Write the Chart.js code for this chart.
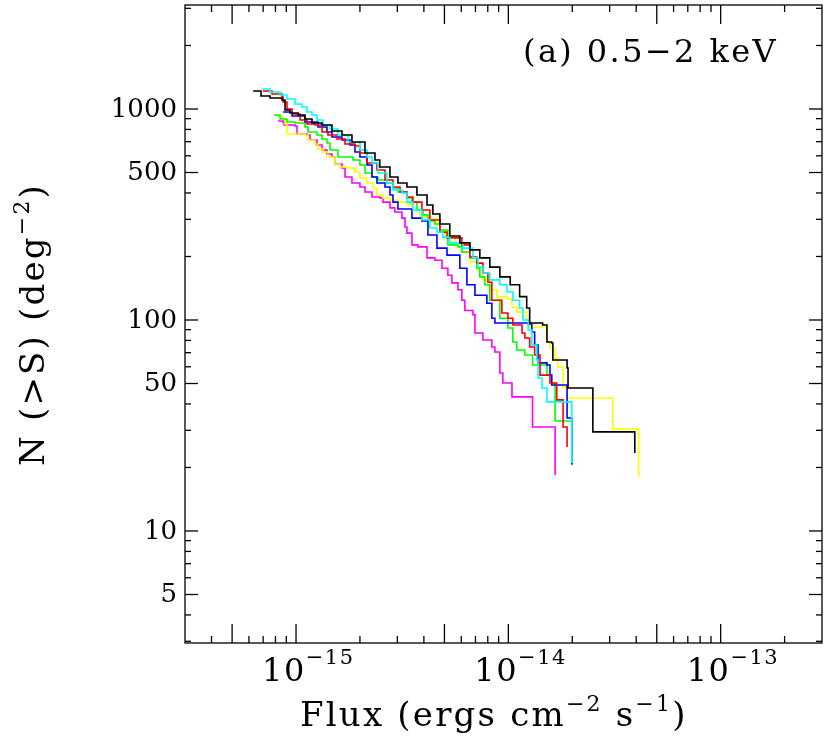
<!DOCTYPE html>
<html>
<head>
<meta charset="utf-8">
<script src="https://cdn.jsdelivr.net/npm/chart.js@4.4.0/dist/chart.umd.min.js"></script>
<style>
    body { margin: 0; background: #fff; }
    #wrap { width: 830px; height: 744px; }
</style>
</head>
<body>
<div id="wrap"><canvas id="lognlogs" width="830" height="744"></canvas></div>
<script>
// flux in units of 1e-15 ergs cm^-2 s^-1, N(>S) in deg^-2
let blackFlux = [0.628, 0.684, 0.755, 0.859, 0.888, 0.937, 1.022, 1.102, 1.189, 1.326, 1.477, 1.646, 1.834, 2.112, 2.354, 2.48, 2.77, 3.02, 3.33, 3.71, 4.14, 4.41, 4.76, 5.30, 5.91, 6.59, 7.34, 8.18, 9.12, 10.2, 11.3, 12.2, 12.6, 14.5, 15.2, 16.0, 16.2, 18.1, 18.9, 19.1, 23.7, 25.0, 39.4, 39.4];
let blackN = [1217, 1152, 1127, 1103, 989, 957, 937, 897, 858, 840, 787, 753, 698, 619, 573, 531, 476, 446, 427, 391, 351, 318, 285, 250, 232, 215, 197, 178, 160, 147, 129, 114, 96.8, 94.7, 78.7, 77.8, 64.6, 64.6, 59.2, 47.6, 47.6, 29.5, 29.5, 23.4];

let redFlux = [0.699, 0.771, 0.859, 0.869, 0.907, 0.958, 1.044, 1.126, 1.228, 1.326, 1.414, 1.559, 1.701, 1.895, 2.0, 2.159, 2.405, 2.624, 2.861, 3.09, 3.33, 3.553, 3.917, 4.27, 4.76, 5.14, 6.04, 6.59, 7.11, 7.59, 8.01, 8.36, 9.32, 9.95, 10.5, 11.6, 11.96, 12.6, 13.3, 14.1, 15.7, 16.9, 18.1, 18.9, 18.9];
let redN = [1217, 1178, 1140, 1080, 1000, 947, 887, 849, 840, 778, 753, 721, 683, 668, 619, 555, 514, 461, 427, 404, 383, 362, 332, 298, 261, 245, 227, 199, 186, 167, 151, 124, 108, 102, 94.7, 86.8, 82.2, 74.5, 68.3, 54.8, 50.3, 41.8, 31.1, 31.1, 25.0];

let blueFlux = [0.869, 0.958, 1.102, 1.269, 1.399, 1.477, 1.646, 1.795, 1.895, 2.0, 2.159, 2.279, 2.405, 2.624, 2.77, 2.861, 3.02, 3.44, 3.515, 3.917, 4.18, 4.61, 5.14, 5.91, 6.38, 6.96, 7.92, 8.36, 8.64, 12.4, 12.9, 13.3, 13.8, 15.2, 15.7, 16.0, 18.9, 18.9, 19.9, 19.9];
let blueN = [968, 926, 868, 822, 778, 737, 713, 675, 625, 592, 543, 476, 446, 427, 391, 362, 336, 336, 304, 295, 253, 219, 203, 176, 147, 131, 120, 102, 96.8, 95.7, 87.7, 76.1, 62.6, 61.2, 54.8, 49.2, 47.6, 34.3, 34.3, 20.6];

let greenFlux = [0.788, 0.841, 0.907, 0.989, 1.102, 1.139, 1.255, 1.326, 1.399, 1.445, 1.576, 1.854, 2.0, 2.112, 2.279, 2.432, 2.680, 2.861, 3.02, 3.33, 3.515, 3.71, 3.96, 4.18, 4.51, 4.76, 5.19, 5.79, 6.04, 6.59, 7.11, 7.34, 7.75, 8.18, 9.12, 9.95, 10.5, 10.96, 11.96, 13.0, 14.9, 15.2, 16.0, 16.6, 19.9, 19.9];
let greenN = [937, 897, 868, 858, 822, 778, 753, 721, 690, 639, 592, 573, 543, 497, 476, 461, 446, 422, 404, 379, 362, 332, 315, 295, 285, 267, 227, 222, 210, 197, 176, 160, 147, 124, 102, 91.6, 78.7, 72.1, 68.3, 61.2, 61.2, 54.8, 50.3, 33.2, 33.2, 22.9];

let cyanFlux = [0.692, 0.755, 0.841, 0.907, 0.989, 1.067, 1.126, 1.189, 1.255, 1.340, 1.445, 1.576, 1.757, 2.0, 2.159, 2.279, 2.432, 2.680, 2.861, 3.154, 3.33, 3.553, 3.917, 4.27, 4.61, 4.92, 5.30, 6.11, 6.81, 7.19, 7.59, 8.18, 9.12, 9.84, 10.5, 11.3, 11.7, 12.4, 12.9, 13.6, 13.8, 14.4, 15.2, 19.9, 19.9];
let cyanN = [1244, 1204, 1165, 1115, 1056, 1022, 968, 937, 887, 840, 804, 753, 698, 639, 592, 555, 497, 446, 413, 400, 362, 332, 298, 273, 261, 247, 232, 219, 197, 178, 167, 155, 147, 136, 124, 114, 100, 89.7, 76.1, 64.6, 53.1, 47.6, 40.9, 40.9, 21.0];

let yellowFlux = [0.814, 0.859, 0.888, 0.907, 1.102, 1.139, 1.228, 1.269, 1.340, 1.414, 1.526, 1.611, 1.738, 1.895, 2.0, 2.159, 2.303, 2.405, 2.567, 2.77, 3.02, 3.33, 3.553, 3.83, 4.27, 4.61, 4.76, 5.03, 5.60, 6.04, 6.59, 7.11, 7.59, 8.18, 8.83, 9.84, 10.4, 10.96, 12.2, 12.6, 15.2, 15.2, 15.7, 16.6, 17.1, 18.1, 18.9, 28.5, 31.0, 41.1, 41.1];
let yellowN = [926, 897, 849, 761, 753, 713, 683, 646, 625, 592, 549, 531, 525, 503, 471, 446, 422, 391, 379, 370, 362, 351, 332, 308, 301, 282, 267, 247, 232, 210, 188, 173, 155, 139, 129, 126, 115, 109, 100, 92.6, 91.6, 78.7, 73.7, 66.1, 59.9, 48.1, 42.7, 42.7, 30.4, 30.4, 18.0];

let magentaFlux = [0.823, 0.869, 0.878, 0.989, 1.011, 1.126, 1.164, 1.255, 1.326, 1.399, 1.477, 1.526, 1.646, 1.701, 1.834, 2.0, 2.112, 2.279, 2.48, 2.567, 2.77, 2.92, 3.154, 3.26, 3.33, 3.515, 3.75, 4.14, 4.51, 4.87, 5.19, 5.42, 5.79, 6.04, 6.24, 6.81, 6.96, 7.59, 8.36, 8.64, 9.12, 9.42, 10.4, 13.0, 13.0, 16.6, 16.6];
let magentaN = [877, 868, 840, 831, 761, 753, 713, 675, 639, 612, 592, 549, 525, 476, 446, 427, 404, 383, 379, 362, 340, 325, 304, 276, 258, 227, 222, 197, 192, 176, 163, 150, 139, 124, 111, 106, 86.8, 80.4, 74.5, 70.5, 56.1, 50.3, 43.2, 43.2, 31.1, 31.1, 18.4];

let xDecades = [-15, -14, -13];
let yTickLabels = [1000, 500, 100, 50, 10, 5];

let toPoints = (flux, n) => flux.map((f, i) => ({ x: f * 1e-15, y: n[i] }));
let series = [
    { label: 'black', color: '#000000', flux: blackFlux, n: blackN },
    { label: 'cyan', color: '#00ffff', flux: cyanFlux, n: cyanN },
    { label: 'red', color: '#ff0000', flux: redFlux, n: redN },
    { label: 'blue', color: '#0000ff', flux: blueFlux, n: blueN },
    { label: 'green', color: '#00ff00', flux: greenFlux, n: greenN },
    { label: 'yellow', color: '#ffff00', flux: yellowFlux, n: yellowN },
    { label: 'magenta', color: '#ff00ff', flux: magentaFlux, n: magentaN },
];

const serif = '"DejaVu Serif", serif';

// draws a run of [text, size, rise] pieces from x along the baseline
let drawRuns = (ctx, runs, x, baseline, spacing) => {
    ctx.letterSpacing = spacing + 'px';
    runs.forEach(([text, size, rise]) => {
        ctx.font = size + 'px ' + serif;
        ctx.fillText(text, x, baseline - rise);
        x += ctx.measureText(text).width;
    });
    ctx.letterSpacing = '0px';
    return x;
};

const frameAndLabels = {
    id: 'frameAndLabels',
    afterDatasetsDraw(chart) {
        const { ctx, chartArea: a, scales: { x, y } } = chart;
        ctx.save();
        ctx.strokeStyle = '#000';
        ctx.fillStyle = '#000';
        ctx.lineWidth = 1.3;
        let seg = (x1, y1, x2, y2) => {
            ctx.beginPath();
            ctx.moveTo(x1, y1);
            ctx.lineTo(x2, y2);
            ctx.stroke();
        };
        ctx.strokeRect(a.left, a.top, a.right - a.left, a.bottom - a.top);

        for (let e = -17; e <= -12; e++) {
            for (let m = 1; m <= 9; m++) {
                let px = x.getPixelForValue(m * Math.pow(10, e));
                if (px < a.left + 1 || px > a.right - 1) continue;
                let len = (m === 1 || m === 5) ? 19 : 7;
                seg(px, a.bottom, px, a.bottom - len);
                seg(px, a.top, px, a.top + len);
            }
        }
        for (let e = 0; e <= 4; e++) {
            for (let m = 1; m <= 9; m++) {
                let py = y.getPixelForValue(m * Math.pow(10, e));
                if (py < a.top + 1 || py > a.bottom - 1) continue;
                let len = (m === 1 || m === 5) ? 13 : 6;
                seg(a.left, py, a.left + len, py);
                seg(a.right, py, a.right - len, py);
            }
        }

        // y tick labels
        ctx.font = '26px ' + serif;
        ctx.textAlign = 'right';
        ctx.textBaseline = 'middle';
        yTickLabels.forEach(v => {
            ctx.fillText(String(v), a.left - 8, y.getPixelForValue(v) + 1);
        });

        // x tick labels 10^n
        ctx.textAlign = 'left';
        ctx.textBaseline = 'alphabetic';
        xDecades.forEach(e => {
            let px = x.getPixelForValue(Math.pow(10, e));
            drawRuns(ctx, [['10', 32, 0], ['\u2212' + Math.abs(e), 21, 17]], px - 34, 681, 1.5);
        });

        // x title
        drawRuns(ctx, [
            ['Flux (ergs cm', 34, 0], ['\u22122', 22, 15],
            [' s', 34, 0], ['\u22121', 22, 15], [')', 34, 0]
        ], 300, 726, 2.2);

        // y title, rotated
        ctx.save();
        ctx.translate(44, 466);
        ctx.rotate(-Math.PI / 2);
        drawRuns(ctx, [['N (>S) (deg', 34, 0], ['\u22122', 22, 15], [')', 34, 0]], 0, 0, 2.2);
        ctx.restore();

        // panel label
        drawRuns(ctx, [['(a) 0.5\u22122 keV', 32, 0]], 523, 62, 2.4);
        ctx.restore();
    }
};

const ctx = document.getElementById('lognlogs');
const chart = new Chart(ctx, {
    type: 'scatter',
    data: {
        datasets: series.map(s => ({
            label: s.label,
            data: toPoints(s.flux, s.n),
            showLine: true,
            stepped: true,
            borderColor: s.color,
            backgroundColor: s.color,
            borderWidth: 1.6,
            pointRadius: 0,
            fill: false
        }))
    },
    options: {
        responsive: false,
        animation: false,
        layout: {
            padding: { left: 185, right: 8, top: 5, bottom: 101 }
        },
        plugins: {
            legend: { display: false },
            tooltip: { enabled: false }
        },
        scales: {
            x: { type: 'logarithmic', min: 3e-16, max: 3e-13, display: false },
            y: { type: 'logarithmic', min: 2.945, max: 3111, display: false }
        }
    },
    plugins: [frameAndLabels]
});
</script>
</body>
</html>
